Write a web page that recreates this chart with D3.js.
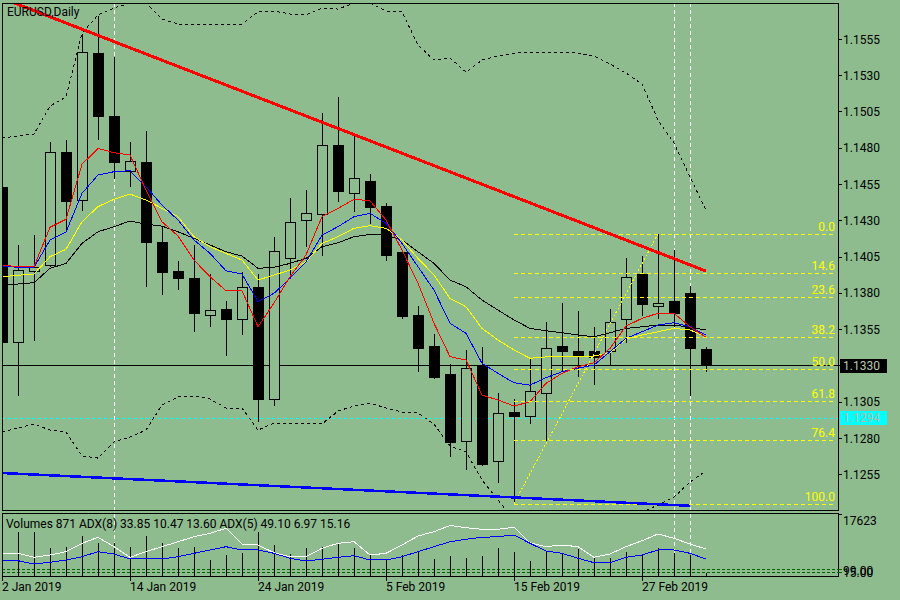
<!DOCTYPE html>
<html>
<head>
<meta charset="utf-8">
<script src="https://cdn.jsdelivr.net/npm/d3@7"></script>
<style>
  html, body { margin: 0; padding: 0; background: #8fbc8f; }
  svg { display: block; }
  text { font-family: Roboto, "DejaVu Sans", sans-serif; font-size: 12px; }
</style>
</head>
<body>
<svg id="chart" width="900" height="600"></svg>
<script>
// EURUSD daily bars, 2 Jan 2019 .. 5 Mar 2019
const dates = ["2019-01-02","2019-01-03","2019-01-04","2019-01-07","2019-01-08","2019-01-09","2019-01-10","2019-01-11",
  "2019-01-14","2019-01-15","2019-01-16","2019-01-17","2019-01-18","2019-01-21","2019-01-22","2019-01-23",
  "2019-01-24","2019-01-25","2019-01-28","2019-01-29","2019-01-30","2019-01-31","2019-02-01","2019-02-04",
  "2019-02-05","2019-02-06","2019-02-07","2019-02-08","2019-02-11","2019-02-12","2019-02-13","2019-02-14",
  "2019-02-15","2019-02-18","2019-02-19","2019-02-20","2019-02-21","2019-02-22","2019-02-25","2019-02-26",
  "2019-02-27","2019-02-28","2019-03-01","2019-03-04","2019-03-05"];

const open  = [1.1453,1.1346,1.1395,1.1399,1.1477,1.1444,1.1545,1.1502,1.1464,1.1470,1.1415,1.1395,1.1390,1.1365,1.1369,1.1362,
  1.1384,1.1307,1.1404,1.1430,1.1434,1.1482,1.1449,1.1457,1.1440,1.1408,1.1365,1.1343,1.1324,1.1278,1.1330,1.1264,
  1.1298,1.1295,1.1311,1.1343,1.1340,1.1340,1.1340,1.1362,1.1393,1.1371,1.1374,1.1380,1.1341];
const high  = [1.1454,1.1413,1.1420,1.1484,1.1486,1.1559,1.1571,1.1543,1.1484,1.1492,1.1426,1.1402,1.1413,1.1393,1.1375,1.1395,
  1.1393,1.1419,1.1446,1.1451,1.1504,1.1515,1.1490,1.1462,1.1442,1.1410,1.1371,1.1352,1.1331,1.1341,1.1343,1.1311,
  1.1307,1.1335,1.1360,1.1373,1.1368,1.1357,1.1369,1.1404,1.1406,1.1421,1.1410,1.1385,1.1343];
const low   = [1.1345,1.1309,1.1347,1.1398,1.1422,1.1437,1.1486,1.1459,1.1453,1.1384,1.1379,1.1382,1.1353,1.1357,1.1337,1.1351,
  1.1291,1.1302,1.1390,1.1412,1.1406,1.1443,1.1436,1.1428,1.1402,1.1362,1.1326,1.1321,1.1267,1.1258,1.1261,1.1249,
  1.1235,1.1290,1.1278,1.1326,1.1322,1.1317,1.1330,1.1346,1.1364,1.1362,1.1357,1.1309,1.1326];
const close = [1.1346,1.1396,1.1398,1.1477,1.1443,1.1546,1.1502,1.1470,1.1471,1.1415,1.1394,1.1390,1.1366,1.1368,1.1362,1.1384,
  1.1307,1.1409,1.1429,1.1435,1.1482,1.1450,1.1459,1.1439,1.1406,1.1364,1.1342,1.1322,1.1277,1.1328,1.1262,1.1297,
  1.1295,1.1312,1.1342,1.1340,1.1337,1.1336,1.1360,1.1391,1.1372,1.1373,1.1366,1.1342,1.1330];

// moving averages as drawn on the chart
const maRed = [1.13995,1.13983,1.13983,1.14255,1.14310,1.14689,1.14799,1.14769,1.14753,1.14512,1.14293,1.14195,1.14029,1.13914,1.13818,1.13818,
  1.13569,1.13733,1.13914,1.14064,1.14328,1.14385,1.14448,1.14438,1.14305,1.14098,1.13869,1.13593,1.13363,1.13340,1.13099,1.13064,
  1.13023,1.13052,1.13179,1.13248,1.13294,1.13321,1.13420,1.13574,1.13627,1.13662,1.13662,1.13569,1.13496];
const maBlue = [1.13988,1.13979,1.13979,1.14167,1.14222,1.14489,1.14615,1.14638,1.14645,1.14534,1.14408,1.14305,1.14167,1.14075,1.13955,1.13933,
  1.13742,1.13800,1.13903,1.14017,1.14201,1.14259,1.14328,1.14351,1.14282,1.14144,1.13983,1.13822,1.13593,1.13524,1.13317,1.13248,
  1.13183,1.13167,1.13218,1.13259,1.13283,1.13305,1.13397,1.13489,1.13535,1.13581,1.13597,1.13569,1.13512];
const maYellow = [1.13914,1.13924,1.13933,1.14052,1.14103,1.14293,1.14397,1.14448,1.14484,1.14443,1.14385,1.14328,1.14190,1.14121,1.14075,1.14029,
  1.13891,1.13926,1.13960,1.14017,1.14144,1.14190,1.14248,1.14266,1.14248,1.14167,1.14041,1.13926,1.13765,1.13707,1.13558,1.13478,
  1.13409,1.13352,1.13361,1.13367,1.13367,1.13367,1.13390,1.13485,1.13512,1.13535,1.13558,1.13547,1.13500];
const maBlack = [1.13857,1.13864,1.13873,1.13972,1.14006,1.14144,1.14224,1.14259,1.14298,1.14277,1.14263,1.14224,1.14179,1.14133,1.14086,1.14057,
  1.13972,1.13979,1.14006,1.14041,1.14121,1.14148,1.14190,1.14206,1.14201,1.14167,1.14086,1.14006,1.13891,1.13845,1.13753,1.13684,
  1.13616,1.13558,1.13542,1.13528,1.13512,1.13500,1.13528,1.13558,1.13569,1.13581,1.13581,1.13565,1.13547];

// Bollinger bands
const bbUpper = [1.14870,1.14884,1.14898,1.15091,1.15153,1.15594,1.15718,1.15766,1.15801,1.15801,1.15690,1.15656,1.15656,1.15656,1.15656,1.15656,
  1.15739,1.15746,1.15725,1.15718,1.15766,1.15759,1.15801,1.15801,1.15746,1.15739,1.15511,1.15408,1.15422,1.15325,1.15408,1.15435,
  1.15456,1.15463,1.15463,1.15463,1.15456,1.15435,1.15380,1.15318,1.15242,1.14994,1.14836,1.14601,1.14374];
const bbLower = [1.12844,1.12871,1.12899,1.12857,1.12844,1.12678,1.12664,1.12775,1.12809,1.12857,1.13030,1.13085,1.13092,1.13071,1.13009,1.13009,
  1.12857,1.12906,1.12899,1.12899,1.12899,1.12988,1.13023,1.13043,1.13009,1.12981,1.12974,1.12899,1.12747,1.12706,1.12513,1.12375,
  1.12237,1.12182,1.12168,1.12168,1.12182,1.12202,1.12237,1.12265,1.12292,1.12340,1.12395,1.12499,1.12575];

// lower window: volumes and two ADX lines
const volumes = [17623,12592,12421,7873,8158,11370,9465,9465,8158,11455,9295,7873,8328,4548,5969,6452,
  12421,8811,6253,7873,8158,9010,7873,5969,4548,5969,6737,4747,5685,5202,5685,7873,
  6907,4264,6907,6452,7674,5031,5031,6737,6253,7873,6623,5969,871];
const adxWhite = [42.8,42.8,35.3,39.6,45.9,61.7,73.0,55.3,35.3,45.9,55.3,64.7,74.2,80.6,90.0,60.4,
  58.5,44.0,36.4,36.4,52.3,61.7,64.7,39.6,42.8,58.5,75.5,83.6,95.3,91.1,88.1,88.1,
  91.9,62.8,55.3,58.5,55.3,35.3,41.5,55.3,66.6,79.3,71.1,60.4,50.9];
const adxBlue = [30.2,28.9,22.6,25.9,30.2,36.4,45.9,41.5,32.1,32.1,32.1,36.4,42.8,49.1,55.3,49.1,
  49.1,42.8,33.4,28.3,31.5,35.3,38.3,30.2,30.2,36.4,45.9,55.3,64.7,69.3,73.0,74.2,
  77.4,61.7,47.2,42.8,33.4,25.1,25.1,35.3,39.6,49.1,49.1,42.8,32.1];
const panelLevels = [12.6, 7.5];
const panelLevelLabels = ["99.00", "15.00"];
const volMax = 17623;

// axis ticks
const priceTicks = [1.1555,1.1530,1.1505,1.1480,1.1455,1.1430,1.1405,1.1380,1.1355,1.1330,1.1305,1.1280,1.1255];
const dateTickIdx = [0, 8, 16, 24, 32, 40];
const dateTickLabels = ["2 Jan 2019","14 Jan 2019","24 Jan 2019","5 Feb 2019","15 Feb 2019","27 Feb 2019"];

// chart objects
const bidPrice = 1.1330;
const markPrice = 1.1294;
const vLineIdx = [7, 42, 43];
const redTrend = [{ i: 0.8, p: 1.1580 }, { i: 44, p: 1.13953 }];
const blueTrend = [{ i: 0, p: 1.12561 }, { i: 43, p: 1.12335 }];
const fibHigh = 1.1421, fibLow = 1.1235;
const fibStartIdx = 32, fibHighIdx = 41;
const fibLevels = [0, 14.6, 23.6, 38.2, 50.0, 61.8, 76.4, 100.0];

// ---- layout
const BG = "#8fbc8f";
const L = 2, R = 838, T = 3, B = 510, PT = 513, PB = 576;

const svg = d3.select("#chart");
svg.append("rect").attr("width", 900).attr("height", 600).attr("fill", BG);

const x = d3.scaleLinear().domain([0, 52]).range([L, L + 52 * 16]);
const y = d3.scaleLinear().domain([1.12306, 1.15801]).range([B, T]);
const yVol = d3.scaleLinear().domain([0, volMax]).range([PB, PT + 1]);
const yAdx = d3.scaleLinear().domain([0, 117]).range([PB, PT + 1]);

const defs = svg.append("defs");
defs.append("clipPath").attr("id", "mainClip")
  .append("rect").attr("x", L).attr("y", T).attr("width", R - L).attr("height", B - T);
defs.append("clipPath").attr("id", "panelClip")
  .append("rect").attr("x", L).attr("y", PT).attr("width", R - L).attr("height", PB - PT);

const bars = dates.map((d, i) => ({ i, o: open[i], h: high[i], l: low[i], c: close[i] }));

const main = svg.append("g").attr("clip-path", "url(#mainClip)").attr("shape-rendering", "crispEdges");
const panel = svg.append("g").attr("clip-path", "url(#panelClip)").attr("shape-rendering", "crispEdges");

// vertical dashed lines (both windows)
[main, panel].forEach(g => {
  g.selectAll(null).data(vLineIdx).enter().append("line")
    .attr("x1", d => x(d)).attr("x2", d => x(d))
    .attr("y1", T).attr("y2", PB)
    .attr("stroke", "#fff").attr("stroke-dasharray", "4,3");
});

// horizontal price lines
main.append("line").attr("x1", L).attr("x2", R).attr("y1", y(bidPrice)).attr("y2", y(bidPrice))
  .attr("stroke", "#000");
main.append("line").attr("x1", L).attr("x2", R).attr("y1", y(markPrice)).attr("y2", y(markPrice))
  .attr("stroke", "#00ffff").attr("stroke-dasharray", "3,3");

// candles
const cg = main.append("g");
cg.selectAll("line.wick").data(bars).enter().append("line")
  .attr("x1", d => x(d.i)).attr("x2", d => x(d.i))
  .attr("y1", d => y(d.h)).attr("y2", d => y(d.l))
  .attr("stroke", "#000");
cg.selectAll("rect.body").data(bars).enter().append("rect")
  .attr("x", d => x(d.i) - 5)
  .attr("width", 10)
  .attr("y", d => y(Math.max(d.o, d.c)))
  .attr("height", d => Math.max(1, y(Math.min(d.o, d.c)) - y(Math.max(d.o, d.c))))
  .attr("fill", d => d.c >= d.o ? BG : "#000")
  .attr("stroke", "#000");

// indicator lines
const line = arr => d3.line().x((d, i) => x(i)).y(d => y(d))(arr);
const series = [
  { v: maBlack, c: "#000" },
  { v: maYellow, c: "#ffff00" },
  { v: maBlue, c: "#0000ff" },
  { v: maRed, c: "#ff0000" }
];
series.forEach(s => {
  main.append("path").attr("d", line(s.v)).attr("fill", "none").attr("stroke", s.c).attr("stroke-width", 1);
});
[bbUpper, bbLower].forEach(v => {
  main.append("path").attr("d", line(v)).attr("fill", "none")
    .attr("stroke", "#000").attr("stroke-dasharray", "3,3");
});

// fibonacci retracement
const fibPrice = lv => fibHigh - (fibHigh - fibLow) * lv / 100;
main.selectAll(null).data(fibLevels).enter().append("line")
  .attr("x1", x(fibStartIdx)).attr("x2", R - 2)
  .attr("y1", d => Math.round(y(fibPrice(d))) + 0.5).attr("y2", d => Math.round(y(fibPrice(d))) + 0.5)
  .attr("stroke", "#ffff00").attr("stroke-dasharray", "4,3");
main.append("line")
  .attr("x1", x(fibStartIdx)).attr("y1", y(fibLow))
  .attr("x2", x(fibHighIdx)).attr("y2", y(fibHigh))
  .attr("stroke", "#ffff00").attr("stroke-dasharray", "2,2");
svg.selectAll("text.fib").data(fibLevels).enter().append("text")
  .attr("x", R - 3).attr("y", d => y(fibPrice(d)) - 3)
  .attr("text-anchor", "end").attr("fill", "#ffff00")
  .text(d => d.toFixed(1));

// trend lines
const tl = d3.line().x(d => x(d.i)).y(d => y(d.p));
main.append("path").attr("d", tl(redTrend)).attr("stroke", "#ff0000").attr("stroke-width", 3).attr("fill", "none");
main.append("path").attr("d", tl(blueTrend)).attr("stroke", "#0000ff").attr("stroke-width", 2.5).attr("fill", "none");

// lower window
panelLevels.forEach(v => {
  panel.append("line").attr("x1", L).attr("x2", R).attr("y1", yAdx(v)).attr("y2", yAdx(v))
    .attr("stroke", "#006400").attr("stroke-dasharray", "3,2");
});
panel.selectAll(null).data(volumes).enter().append("line")
  .attr("x1", (d, i) => x(i)).attr("x2", (d, i) => x(i))
  .attr("y1", d => yVol(d)).attr("y2", PB)
  .attr("stroke", "#000");
const adxLine = d3.line().x((d, i) => x(i)).y(d => yAdx(d));
panel.append("path").attr("d", adxLine(adxWhite)).attr("fill", "none").attr("stroke", "#fff");
panel.append("path").attr("d", adxLine(adxBlue)).attr("fill", "none").attr("stroke", "#0000ff");

// frames
const frame = svg.append("g").attr("shape-rendering", "crispEdges").attr("fill", "none").attr("stroke", "#000");
frame.append("rect").attr("x", L).attr("y", T).attr("width", R - L).attr("height", B - T);
frame.append("rect").attr("x", L).attr("y", PT).attr("width", R - L).attr("height", PB - PT);

// price axis
const ax = svg.append("g");
ax.selectAll("line").data(priceTicks).enter().append("line")
  .attr("x1", R).attr("x2", R + 4).attr("y1", d => y(d)).attr("y2", d => y(d))
  .attr("stroke", "#000").attr("shape-rendering", "crispEdges");
ax.selectAll("text").data(priceTicks).enter().append("text")
  .attr("x", R + 5).attr("y", d => y(d)).attr("dy", "0.35em")
  .attr("fill", "#000").text(d => d.toFixed(4));

// price labels
function priceBox(p, fill, color) {
  svg.append("rect").attr("x", R + 2).attr("y", y(p) - 7).attr("width", 47).attr("height", 14)
    .attr("fill", fill).attr("shape-rendering", "crispEdges");
  svg.append("text").attr("x", R + 5).attr("y", y(p)).attr("dy", "0.35em")
    .attr("fill", color).text(p.toFixed(4));
}
priceBox(bidPrice, "#000", "#b8c8b0");
priceBox(markPrice, "#00ffff", "#b0b8a8");

// lower window axis
svg.append("line").attr("x1", R).attr("x2", R + 4).attr("y1", PT + 1).attr("y2", PT + 1)
  .attr("stroke", "#000").attr("shape-rendering", "crispEdges");
svg.append("text").attr("x", R + 5).attr("y", PT + 8).attr("dy", "0.35em").text(volMax);
panelLevels.forEach((v, k) => {
  svg.append("line").attr("x1", R).attr("x2", R + 4).attr("y1", yAdx(v)).attr("y2", yAdx(v))
    .attr("stroke", "#006400").attr("shape-rendering", "crispEdges");
  svg.append("text").attr("x", R + 5).attr("y", yAdx(v) + 1).attr("dy", "0.35em").text(panelLevelLabels[k]);
});

// date axis
svg.selectAll("line.dt").data(dateTickIdx).enter().append("line")
  .attr("x1", d => x(d)).attr("x2", d => x(d)).attr("y1", PB).attr("y2", PB + 5)
  .attr("stroke", "#000").attr("shape-rendering", "crispEdges");
svg.selectAll("text.dt").data(dateTickIdx).enter().append("text")
  .attr("x", d => x(d)).attr("y", 591).text((d, k) => dateTickLabels[k]);

// titles
svg.append("text").attr("x", 7).attr("y", 16).text("EURUSD,Daily");
svg.append("text").attr("x", 6).attr("y", 528)
  .text("Volumes " + volumes[volumes.length - 1] + " ADX(8) 33.85 10.47 13.60 ADX(5) 49.10 6.97 15.16");
</script>
</body>
</html>
